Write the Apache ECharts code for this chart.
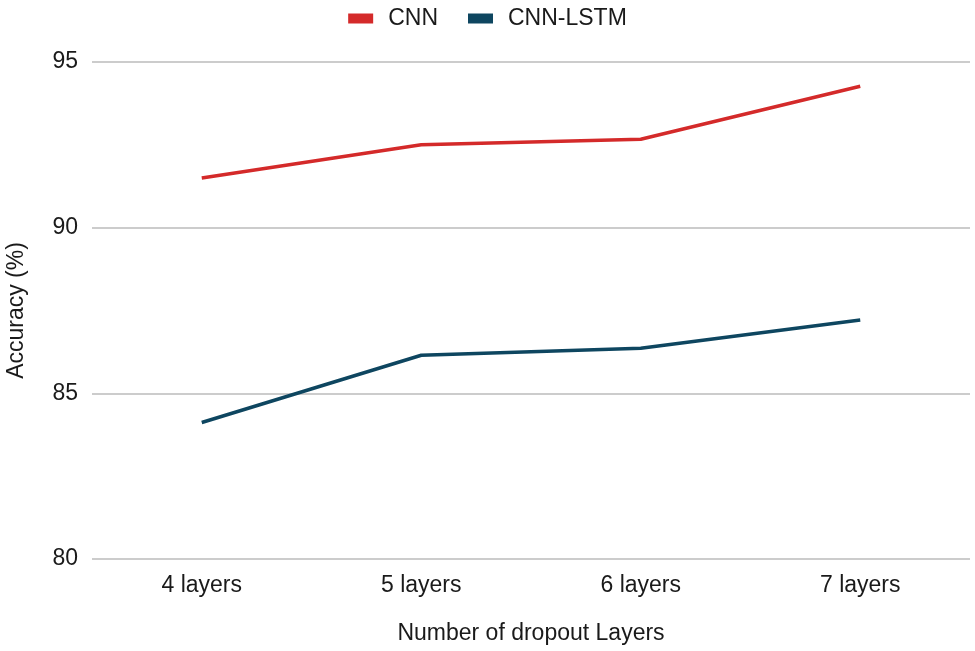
<!DOCTYPE html>
<html>
<head>
<meta charset="utf-8">
<script src="https://cdn.jsdelivr.net/npm/echarts@6/dist/echarts.min.js"></script>
<style>html,body{margin:0;padding:0;background:#fff;}#c{width:975px;height:651px;}</style>
</head>
<body>
<div id="c"></div>
<script>
const categories = ['4 layers', '5 layers', '6 layers', '7 layers'];
const cnn = [91.5, 92.5, 92.67, 94.27];
const cnnLstm = [84.12, 86.15, 86.36, 87.21];
const yTicks = [80, 85, 90, 95];

const chart = echarts.init(document.getElementById('c'));
const font = 'Liberation Sans, Arial, sans-serif';
chart.setOption({
  animation: false,
  backgroundColor: '#fff',
  textStyle: { fontFamily: font },
  legend: {
    top: 2,
    left: 'center',
    itemWidth: 25,
    itemHeight: 10,
    itemGap: 30,
    icon: 'rect',
    textStyle: { fontSize: 23, color: '#1a1a1a', fontFamily: font, padding: [0, 0, 0, 10] },
    data: ['CNN', 'CNN-LSTM']
  },
  grid: { left: 92, right: 5, top: 62, bottom: 92, containLabel: false, outerBoundsMode: 'none' },
  xAxis: {
    type: 'category',
    data: categories,
    boundaryGap: true,
    name: 'Number of dropout Layers',
    nameLocation: 'middle',
    nameGap: 63,
    nameTextStyle: { fontSize: 23, color: '#1a1a1a', fontFamily: font },
    axisLine: { show: false },
    axisTick: { show: false },
    axisLabel: { fontSize: 23, color: '#1a1a1a', margin: 15, fontFamily: font }
  },
  yAxis: {
    type: 'value',
    min: yTicks[0],
    max: yTicks[yTicks.length - 1],
    interval: 5,
    name: 'Accuracy (%)',
    nameLocation: 'middle',
    nameGap: 64,
    nameTextStyle: { fontSize: 23, color: '#1a1a1a', fontFamily: font },
    axisLine: { show: false },
    axisTick: { show: false },
    axisLabel: { fontSize: 23, color: '#1a1a1a', margin: 14, fontFamily: font },
    splitLine: { lineStyle: { color: '#cccccc', width: 2 } }
  },
  series: [
    {
      name: 'CNN', type: 'line', data: cnn, showSymbol: false, symbol: 'none',
      itemStyle: { color: '#d42a2a' },
      lineStyle: { color: '#d42a2a', width: 3.5 }
    },
    {
      name: 'CNN-LSTM', type: 'line', data: cnnLstm, showSymbol: false, symbol: 'none',
      itemStyle: { color: '#0e4660' },
      lineStyle: { color: '#0e4660', width: 3.5 }
    }
  ]
});
</script>
</body>
</html>
